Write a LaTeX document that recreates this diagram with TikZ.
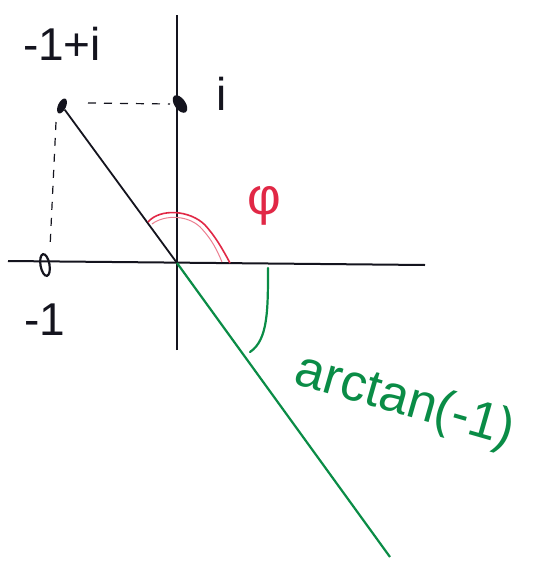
\documentclass[tikz,border=0pt]{standalone}
\usepackage{fontspec}
\setmainfont{Liberation Sans}
\usetikzlibrary{shapes.geometric}
\definecolor{pen}{RGB}{20,20,30}
\definecolor{gpen}{RGB}{10,140,70}
\definecolor{rpen}{RGB}{225,40,70}
\tikzset{
  axis/.style={draw=pen, line width=2pt},
  dash line/.style={draw=pen, line width=1.2pt, dash pattern=on 8pt off 8pt},
  hand/.style={font=\fontsize{46}{50}\selectfont, inner sep=0pt},
  dot/.style={ellipse, fill=pen, minimum width=8pt, minimum height=16pt, inner sep=0pt},
  ring/.style={ellipse, draw=pen, line width=2.2pt, minimum width=9pt, minimum height=22pt, inner sep=0pt}
}
\begin{document}
\begin{tikzpicture}[x=1pt,y=-1pt]
\useasboundingbox (0,0) rectangle (536,568);
\fill[white] (0,0) rectangle (536,568);
% axes
\coordinate (O) at (177,263);
\coordinate (yt) at (177,15);
\coordinate (yb) at (177,350);
\coordinate (xl) at (8,261);
\coordinate (xr) at (425,265);
\draw[axis] (yb) -- (yt);
\draw[axis] (xl) -- (xr);
% points
\node[dot, rotate=-25] (p1) at (62,106) {};
\node[dot, rotate=35, minimum width=11pt, minimum height=20pt] (pi) at (180,104) {};
\node[ring, rotate=10] (pm) at (45,265) {};
% dashed helpers
\coordinate (d1) at (88,103);
\coordinate (d2) at (170,104);
\coordinate (d3) at (56,122);
\coordinate (d4) at (50,248);
\draw[dash line] (d1) -- (d2);
\draw[dash line] (d3) -- (d4);
% lines
\draw[pen, line width=1.8pt] (p1) -- (O);
\coordinate (ge) at (390,557);
\draw[gpen, line width=2.2pt] (O) -- (ge);
% angle arcs
\coordinate (r1) at (148,222);
\coordinate (r2) at (230,263);
\draw[rpen, line width=1.6pt] (r1) .. controls (160,208) and (190,210) .. (205,225) .. controls (215,236) and (222,248) .. (r2);
\draw[rpen!60, line width=1pt] (152,224) .. controls (165,214) and (190,215) .. (202,229) .. controls (212,240) and (217,250) .. (222,262);
\coordinate (g1) at (268,268);
\coordinate (g2) at (250,352);
\draw[gpen, line width=2.2pt, line cap=round] (g1) .. controls (268,310) and (268,340) .. (g2);
% labels
\node[hand, text=pen] (l1) at (62,44) {-1+i};
\node[hand, text=pen] (li) at (222,94) {i};
\node[hand, text=pen] (lm) at (45,320) {-1};
\node[hand, text=rpen, font=\fontsize{52}{56}\selectfont] (lphi) at (264,206) {φ};
\node[hand, text=gpen, rotate=-16, font=\fontsize{52}{56}\selectfont] (la) at (405,402) {arctan(-1)};
\end{tikzpicture}
\end{document}
